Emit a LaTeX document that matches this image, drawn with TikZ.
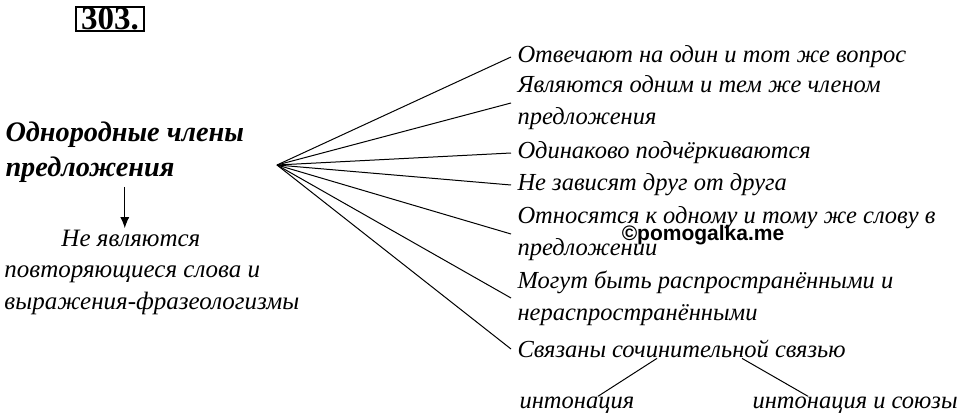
\documentclass[tikz,border=0pt]{standalone}
\usepackage{fontspec}
\setmainfont{Liberation Serif}
\newfontfamily\wmfont{Liberation Sans}
\usetikzlibrary{arrows.meta}
\begin{document}
\begin{tikzpicture}[x=1pt,y=-1pt,line width=1pt]
      \useasboundingbox (0,0) rectangle (960,417);

      \node[draw,line width=1.6pt,inner xsep=5pt,inner ysep=1pt,font=\fontsize{33}{36}\selectfont\bfseries] (n) at (110,19) {303.};

      \node[font=\fontsize{28.3}{35}\selectfont\bfseries\itshape,align=left,inner sep=1pt,anchor=west] (t) at (4,152) {Однородные члены\\предложения};
      \node[font=\fontsize{25}{31.5}\selectfont\itshape,align=left,inner sep=1pt,anchor=west] (r) at (3,272) {\hspace*{57pt}Не являются\\повторяющиеся слова и\\выражения-фразеологизмы};

      \coordinate (0) at (277,165);

      \begin{scope}[every node/.style={font=\fontsize{24.5}{32}\selectfont\itshape,align=left,anchor=west,inner xsep=6pt,inner ysep=0pt}]
        \node (1) at (511,57)  {Отвечают на один и тот же вопрос};
        \node (2) at (511,103) {Являются одним и тем же членом\\предложения};
        \node (3) at (511,153) {Одинаково подчёркиваются};
        \node (4) at (511,185) {Не зависят друг от друга};
        \node (5) at (511,234) {Относятся к одному и тому же слову в\\предложении};
        \node (6) at (511,298) {Могут быть распространёнными и\\нераспространёнными};
        \node (7) at (511,349) {Связаны сочинительной связью};
        \node (8) at (513,405) {интонация};
        \node (9) at (746,405) {интонация и союзы};
      \end{scope}

      \node[font=\wmfont\bfseries\fontsize{21}{24}\selectfont] (w) at (703,235) {©pomogalka.me};

      \begin{scope}[every edge/.style={draw}]
        \path (t.south) edge[-{Latex[length=11pt,width=9pt]},shorten <=3pt] (t.south |- r.north);
        \path (0) edge (1.west);
        \path (0) edge (2.west);
        \path (0) edge (3.west);
        \path (0) edge (4.west);
        \path (0) edge (5.west);
        \path (0) edge (6.west);
        \path (0) edge (7.west);
        \path ([xshift=146pt]7.south west) edge ([xshift=85pt]8.north west);
        \path ([xshift=231pt]7.south west) edge ([xshift=62pt]9.north west);
      \end{scope}

    \end{tikzpicture}
\end{document}
